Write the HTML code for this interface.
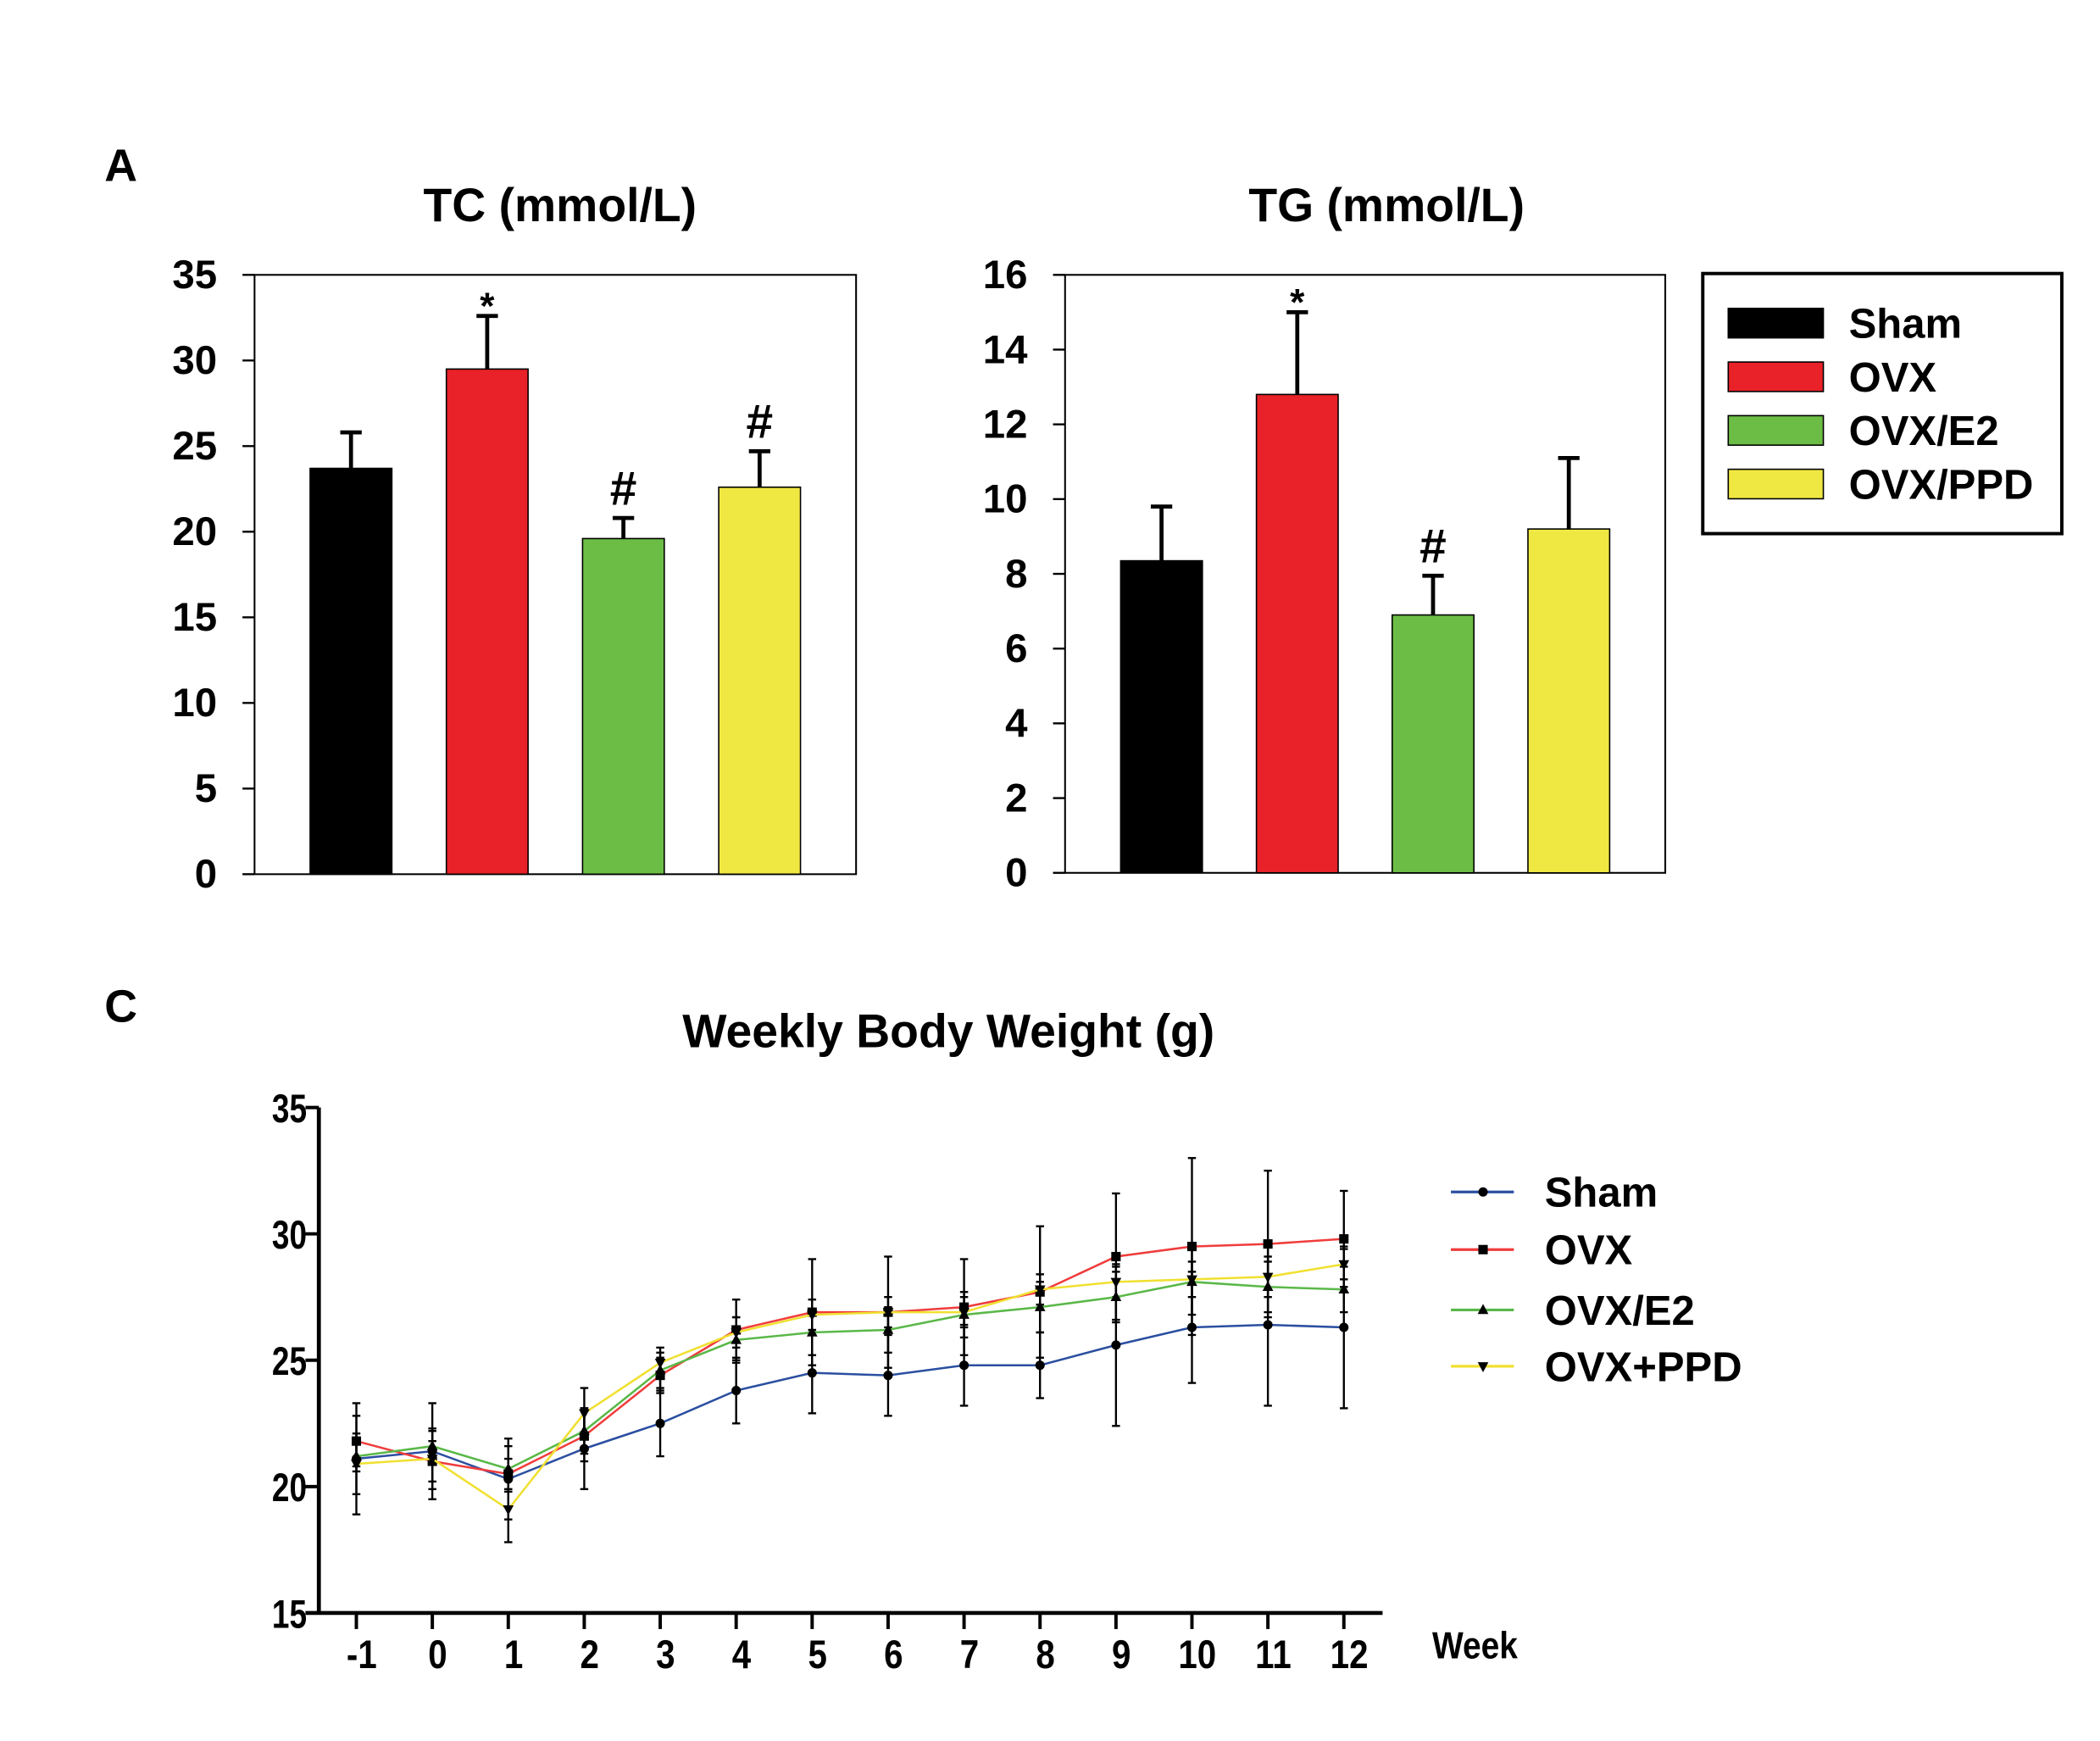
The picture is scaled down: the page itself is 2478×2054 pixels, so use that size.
<!DOCTYPE html>
<html><head><meta charset="utf-8"><style>
html,body{margin:0;padding:0;background:#fff;}
svg{display:block;font-family:"Liberation Sans",Arial,sans-serif;font-weight:bold;}
</style></head><body>
<svg id="fig" width="2478" height="2054" viewBox="0 0 1567.5 1298.5" preserveAspectRatio="none">
<text x="78" y="135" font-size="34">A</text>
<text x="78" y="762" font-size="34">C</text>
<text x="418" y="165" font-size="35" text-anchor="middle">TC (mmol/L)</text>
<text x="1035" y="165" font-size="35" text-anchor="middle">TG (mmol/L)</text>
<text x="708" y="781" font-size="35" text-anchor="middle">Weekly Body Weight (g)</text>
<g id="tc"></g>
<g id="tg"></g>
<g>
<rect x="1271" y="204" width="268" height="194" fill="none" stroke="#000" stroke-width="2.5"/>
<rect x="1290" y="230" width="71" height="22" fill="#000" stroke="#000"/>
<rect x="1290" y="270" width="71" height="22" fill="#e82228" stroke="#000"/>
<rect x="1290" y="310" width="71" height="22" fill="#6cbd45" stroke="#000"/>
<rect x="1290" y="350" width="71" height="22" fill="#f0e842" stroke="#000"/>
<text x="1380" y="252" font-size="31">Sham</text>
<text x="1380" y="292" font-size="31">OVX</text>
<text x="1380" y="332" font-size="31">OVX/E2</text>
<text x="1380" y="372" font-size="31">OVX/PPD</text>
</g>
<g id="lc"></g>
</svg>
<script>
const NS="http://www.w3.org/2000/svg";
const barColors=["#000000","#e82228","#6cbd45","#f0e842"];
const tcValues=[23.7,29.5,19.6,22.6];
const tcErrors=[2.1,3.1,1.2,2.1];
const tcMarks=["","*","#","#"];
const tcTicks=[0,5,10,15,20,25,30,35];
const tgValues=[8.35,12.8,6.9,9.2];
const tgErrors=[1.45,2.2,1.05,1.9];
const tgMarks=["","*","#",""];
const tgTicks=[0,2,4,6,8,10,12,14,16];
const weeks=[-1,0,1,2,3,4,5,6,7,8,9,10,11,12];
const shamW=[21.1,21.4,20.3,21.5,22.5,23.8,24.5,24.4,24.8,24.8,25.6,26.3,26.4,26.3];
const shamE=[2.2,1.9,1.6,1.6,1.3,1.3,1.6,1.6,1.6,1.3,3.2,2.2,3.2,3.2];
const ovxW=[21.8,21.0,20.5,22.0,24.4,26.2,26.9,26.9,27.1,27.7,29.1,29.5,29.6,29.8];
const ovxE=[1.0,0.8,0.6,1.0,0.7,1.2,2.1,2.2,1.9,2.6,2.5,3.5,2.9,1.9];
const e2W=[21.2,21.6,20.7,22.2,24.6,25.8,26.1,26.2,26.8,27.1,27.5,28.1,27.9,27.8];
const e2E=[0.6,0.6,0.9,0.9,0.7,0.9,0.9,0.9,0.9,1.0,1.0,1.3,1.0,0.9];
const ppdW=[20.9,21.1,19.1,22.9,24.9,26.1,26.8,26.9,26.9,27.8,28.1,28.2,28.3,28.8];
const ppdE=[1.2,1.2,1.3,1.0,0.6,0.6,0.6,0.6,0.6,0.6,0.6,0.7,0.8,0.6];
const weightTicks=[15,20,25,30,35];

function mk(parent,tag,attrs){const e=document.createElementNS(NS,tag);for(const k in attrs)e.setAttribute(k,attrs[k]);parent.appendChild(e);return e;}

function barChart(id,L,R,T,B,max,ticks,vals,errs,marks,prefix){
  const g=document.getElementById(id);
  const y=v=>B-(v/max)*(B-T);
  const r=mk(g,'rect',{x:L,y:T,width:R-L,height:B-T,fill:'none',stroke:'#000','stroke-width':1.3});
  
  
  ticks.forEach(t=>{
    const l=mk(g,'line',{x1:L-9,x2:L,y1:y(t),y2:y(t),stroke:'#000','stroke-width':1.5});
    
    
    const tx=mk(g,'text',{x:L-28,y:y(t)+10,'font-size':30,'text-anchor':'end'});
    tx.textContent=t;
    
    
  });
  const step=(R-L-144)/3, bw=61;
  vals.forEach((v,i)=>{
    const cx=L+72+i*step;
    const et=y(v+errs[i]);
    const el=mk(g,'line',{x1:cx,x2:cx,y1:y(v),y2:et,stroke:'#000','stroke-width':3});
    
    
    const cap=mk(g,'line',{x1:cx-8,x2:cx+8,y1:et,y2:et,stroke:'#000','stroke-width':3});
    
    
    const b=mk(g,'rect',{x:cx-bw/2,y:y(v),width:bw,height:B-y(v),fill:barColors[i],stroke:'#000','stroke-width':1});
    
    
    if(marks[i]){
      const m=mk(g,'text',{x:cx,y:et-(marks[i]=='*'?-2:10),'font-size':marks[i]=='*'?28:36,'text-anchor':'middle'});
      m.textContent=marks[i];
      
      
    }
  });
}
barChart('tc',190,639,205,652,35,tcTicks,tcValues,tcErrors,tcMarks,'tc');
barChart('tg',795,1243,205,651,16,tgTicks,tgValues,tgErrors,tgMarks,'tg');

(function(){
  const g=document.getElementById('lc');
  const L=238,B=1203,T=826;
  const x=w=>266+(w+1)*56.7;
  const y=v=>B-(v-15)/20*(B-T);
  const ax=mk(g,'line',{x1:L,x2:L,y1:T,y2:B,stroke:'#000','stroke-width':3});
  
  
  const bx=mk(g,'line',{x1:L-10,x2:1032,y1:B,y2:B,stroke:'#000','stroke-width':3});
  
  
  weightTicks.forEach(t=>{
    const l=mk(g,'line',{x1:L-10,x2:L,y1:y(t),y2:y(t),stroke:'#000','stroke-width':2.5});
    
    
    const tx=mk(g,'text',{x:0,y:0,'font-size':30,'text-anchor':'end',transform:`translate(${L-9},${y(t)+11}) scale(0.78,1)`});
    tx.textContent=t;
    
    
  });
  weeks.forEach(w=>{
    const l=mk(g,'line',{x1:x(w),x2:x(w),y1:B,y2:B+12,stroke:'#000','stroke-width':2.5});
    
    
    const tx=mk(g,'text',{x:0,y:0,'font-size':30,'text-anchor':'middle',transform:`translate(${x(w)+4},${B+41}) scale(0.85,1)`});
    tx.textContent=w;
    
    
  });
  const wl=mk(g,'text',{x:0,y:0,'font-size':28,transform:`translate(1069,1237) scale(0.88,1)`});
  wl.textContent='Week';
  
  
  const series=[[shamW,shamE,'#2b4fa0','circle','sham'],[ovxW,ovxE,'#f03c3c','square','ovx'],[e2W,e2E,'#5ab848','up','e2'],[ppdW,ppdE,'#f0e030','down','ppd']];
  function marker(cx,cy,shape,name){
    let m;
    if(shape=='circle')m=mk(g,'circle',{cx:cx,cy:cy,r:3.5,fill:'#000'});
    else if(shape=='square')m=mk(g,'rect',{x:cx-3.5,y:cy-3.5,width:7,height:7,fill:'#000'});
    else if(shape=='up')m=mk(g,'path',{d:`M${cx} ${cy-4.5}L${cx+4} ${cy+3}L${cx-4} ${cy+3}Z`,fill:'#000'});
    else m=mk(g,'path',{d:`M${cx} ${cy+4.5}L${cx+4} ${cy-3}L${cx-4} ${cy-3}Z`,fill:'#000'});
    
    
  }
  series.forEach(([vals,errs,col,shape,nm])=>{
    vals.forEach((v,i)=>{
      const e=mk(g,'line',{x1:x(weeks[i]),x2:x(weeks[i]),y1:y(v-errs[i]),y2:y(v+errs[i]),stroke:'#000','stroke-width':1.5});
      
      
      [v-errs[i],v+errs[i]].forEach(ev=>{
        const c=mk(g,'line',{x1:x(weeks[i])-3,x2:x(weeks[i])+3,y1:y(ev),y2:y(ev),stroke:'#000','stroke-width':1.5});
        
        
      });
    });
  });
  series.forEach(([vals,errs,col,shape,nm])=>{
    const p=mk(g,'polyline',{points:vals.map((v,i)=>x(weeks[i])+','+y(v)).join(' '),fill:'none',stroke:col,'stroke-width':1.6});
    
    
    vals.forEach((v,i)=>marker(x(weeks[i]),y(v),shape,nm+'-marker'));
  });
  const labels=['Sham','OVX','OVX/E2','OVX+PPD'];
  const ly=[889,932,977,1019];
  series.forEach(([vals,errs,col,shape,nm],i)=>{
    const l=mk(g,'line',{x1:1083,x2:1130,y1:ly[i],y2:ly[i],stroke:col,'stroke-width':2});
    
    
    marker(1107,ly[i],shape,'legend-marker-'+nm);
    const t=mk(g,'text',{x:1153,y:ly[i]+11,'font-size':31});
    t.textContent=labels[i];
    
    
  });
})();
</script>
</body></html>
